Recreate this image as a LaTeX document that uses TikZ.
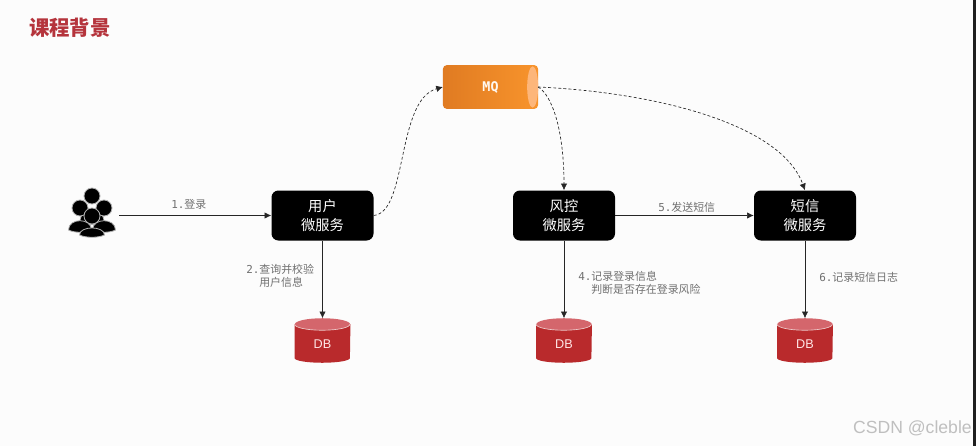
\documentclass[tikz,border=0pt]{standalone}
\usepackage{fontspec}
\setmainfont{Liberation Sans}
\newfontfamily\cjk{Noto Sans CJK SC}
\newfontfamily\monof{DejaVu Sans Mono}
\usetikzlibrary{arrows.meta,shapes.geometric,calc}
\definecolor{titlered}{HTML}{B5343C}
\definecolor{dbred}{HTML}{B92A2C}
\definecolor{dbtop}{HTML}{D4666C}
\definecolor{lab}{HTML}{707070}
\definecolor{mqleft}{HTML}{E07B22}
\definecolor{mqright}{HTML}{F8942C}
\definecolor{mqcap}{HTML}{FDB67A}
\tikzset{
  svc/.style={rectangle,rounded corners=5.2pt,fill=black,text=white,minimum width=76.5pt,minimum height=37.5pt,inner sep=0pt,align=center,font=\cjk\fontsize{10.7}{14}\selectfont},
  lbl/.style={text=lab,inner sep=0pt,align=left,font=\cjk\fontsize{8.2}{9.9}\selectfont},
  conn/.style={draw=black!85,line width=0.5pt,-{Latex[length=5pt,width=4.8pt]}},
  dconn/.style={conn,dash pattern=on 2.2pt off 1.6pt},
  dbbox/.style={rectangle,minimum width=41.5pt,minimum height=33pt,inner sep=0pt},
}
\newcommand{\dbcyl}[2]{%
  \node[dbbox] (#2) at (#1) {};
  \fill[dbred] ($(#2.north west)+(0,-4.5pt)$) -- ($(#2.south west)+(0,3.5pt)$)
     arc[x radius=20.75pt,y radius=3.5pt,start angle=180,end angle=360]
     -- ($(#2.north east)+(0,-4.5pt)$) -- cycle;
  \fill[dbtop] ($(#2.north)+(0,-4.5pt)$) ellipse[x radius=20.75pt,y radius=4.5pt];
  \draw[white!75!dbred,line width=0.5pt] ($(#2.north west)+(0,-4.5pt)$) arc[x radius=20.75pt,y radius=4.5pt,start angle=180,end angle=360];
  \node[text=white!90!red,font=\fontsize{9.5}{11}\selectfont,inner sep=0pt] at ($(#2.center)+(0,-2.6pt)$) {DB};
}
% #1 x, #2 head y, #3 head radius, #4 half body width, #5 body bottom y
\newcommand{\person}[5]{%
  \fill[black,draw=white!70!black,line width=0.6pt] ({#1-#4},#5)
     .. controls ({#1-#4},{#2+#3*1.2}) and ({#1+#4},{#2+#3*1.2}) .. ({#1+#4},#5)
     .. controls ({#1+#4*0.5},{#5+3}) and ({#1-#4*0.5},{#5+3}) .. cycle;
  \fill[black,draw=white!70!black,line width=0.6pt] (#1,#2) circle[radius=#3];
}
\begin{document}
\begin{tikzpicture}[x=0.75pt,y=-0.75pt]
\useasboundingbox (0,0) rectangle (976,446);
\fill[white!99!black] (0,0) rectangle (976,446);
% title
\node[text=titlered,inner sep=0pt,font=\cjk\bfseries\fontsize{15.3}{18}\selectfont] (title) at (70,28) {课程背景};
% people
\person{92}{196}{8}{12}{222}
\person{80}{208}{8}{11.5}{230}
\person{104}{208}{8}{11.5}{230}
\person{92}{216}{8}{12.5}{235}
\coordinate (users) at (119,215.5);
% services
\node[svc] (user) at (322.5,215.5) {用户\\微服务};
\node[svc] (risk) at (564,215.5) {风控\\微服务};
\node[svc] (sms) at (805,215.5) {短信\\微服务};
% MQ
\node[rectangle,minimum width=71pt,minimum height=32.5pt,inner sep=0pt] (mq) at (490.5,87) {};
\shade[left color=mqleft,right color=mqright,rounded corners=3pt] (mq.south west) rectangle (mq.north east);
\fill[mqcap] ($(mq.east)+(-4.1pt,0)$) ellipse[x radius=4.1pt,y radius=15.5pt];
\node[text=white!95!orange,inner sep=0pt,font=\monof\bfseries\fontsize{10}{12}\selectfont] at (mq.center) {MQ};
% DBs
\dbcyl{322.5,340.5}{db1}
\dbcyl{564,340.5}{db2}
\dbcyl{805,340.5}{db3}
% connectors
\draw[conn] (users) -- (user);
\draw[conn] (user.south) -- (user.south |- db1.north);
\draw[conn] (risk.south) -- (risk.south |- db2.north);
\draw[conn] (sms.south) -- (sms.south |- db3.north);
\draw[conn] (risk) -- (sms);
\draw[dconn] (user.east) .. controls (408,212) and (396,100) .. (mq.west);
\draw[dconn] (mq.east) .. controls (552,95) and (564,130) .. (risk.north);
\draw[dconn] (mq.east) .. controls (650,92) and (780,122) .. (sms.north);
% labels
\node[lbl,anchor=west] (l1) at (171,204.5) {{\monof 1.}登录};
\node[lbl,anchor=west] (l2) at (246,276) {{\monof 2.}查询并校验\\\hspace*{9.75pt}用户信息};
\node[lbl,anchor=west] (l4) at (578,283) {{\monof 4.}记录登录信息\\\hspace*{9.75pt}判断是否存在登录风险};
\node[lbl,anchor=west] (l5) at (658,207.5) {{\monof 5.}发送短信};
\node[lbl,anchor=west] (l6) at (819,277) {{\monof 6.}记录短信日志};
\node[text=black!25,inner sep=0pt,anchor=east,font=\fontsize{13.2}{15}\selectfont] (wm) at (972,428) {CSDN @cleble};
\fill[black!88] (973,0) rectangle (976,446);
\end{tikzpicture}
\end{document}
